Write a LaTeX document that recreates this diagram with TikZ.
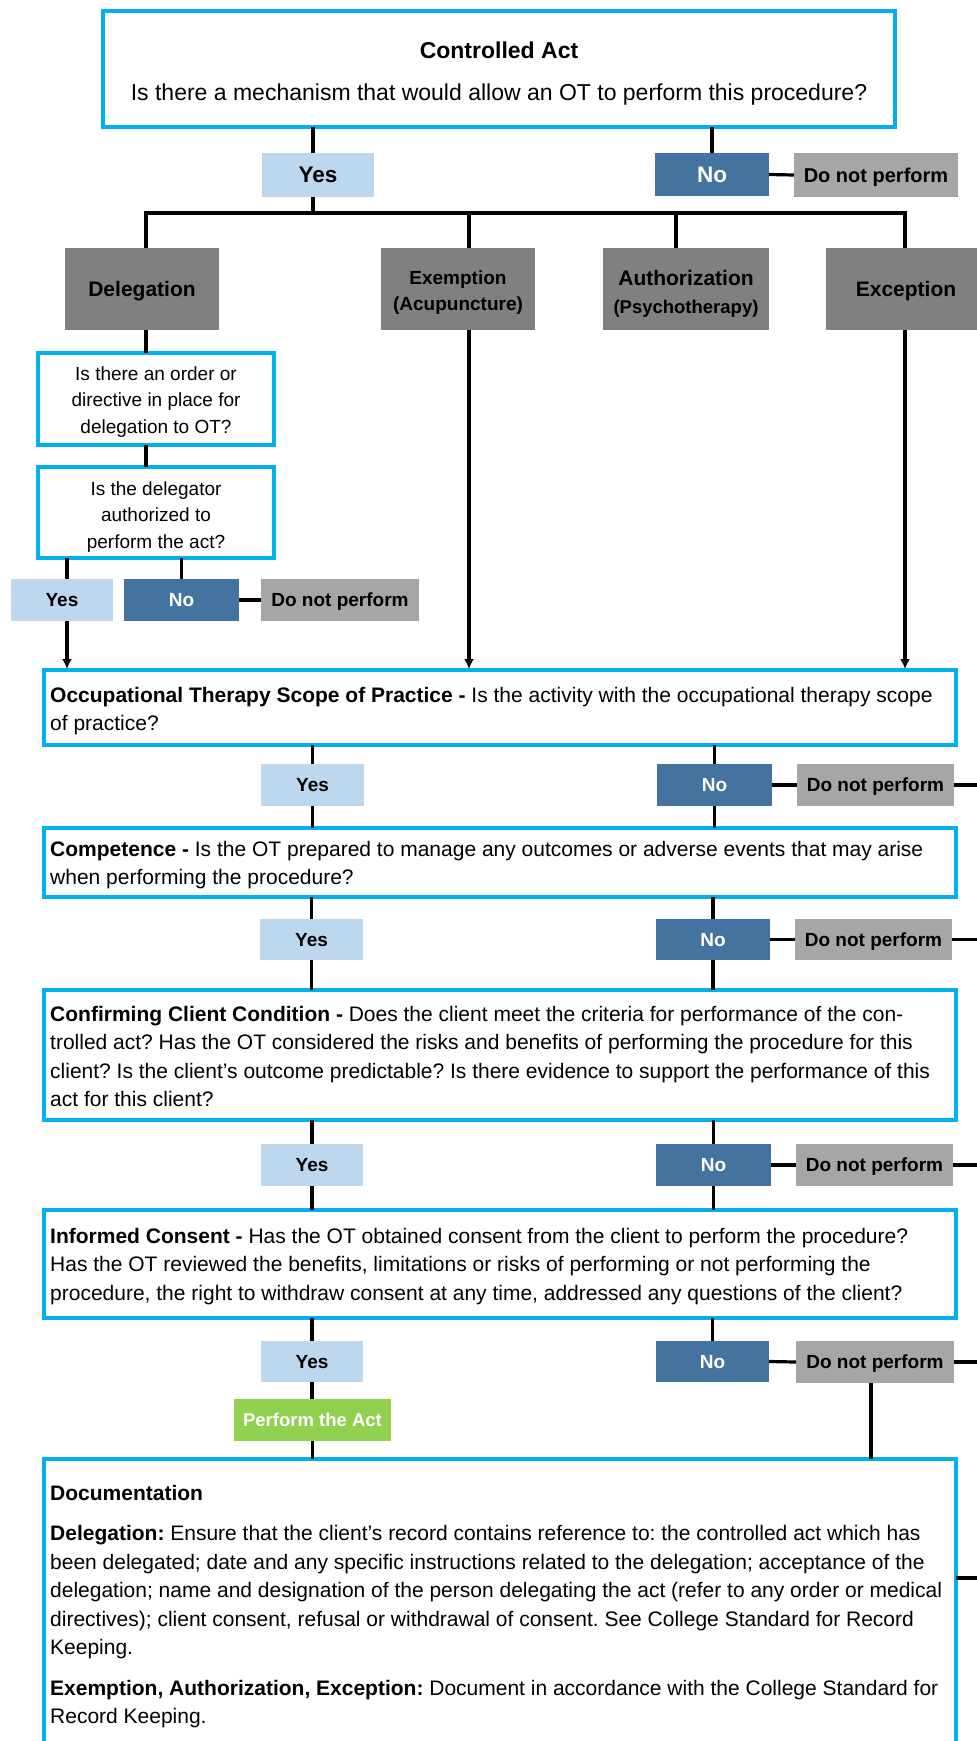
\documentclass[tikz,border=0pt]{standalone}
\usepackage{fontspec}
\setmainfont{Liberation Sans}
\usetikzlibrary{arrows.meta}
\definecolor{qblue}{HTML}{00B0F0}
\definecolor{yesfill}{HTML}{BDD7EE}
\definecolor{nofill}{HTML}{44739F}
\definecolor{stopfill}{HTML}{A6A6A6}
\definecolor{catfill}{HTML}{808080}
\definecolor{actfill}{HTML}{92D050}
\newcommand{\fsz}[2]{\fontsize{#1}{#2}\selectfont}
\frenchspacing
\begin{document}
\begin{tikzpicture}[x=1pt,y=-1pt,
  base/.style={rectangle, inner sep=0pt, outer sep=0pt, anchor=north west},
  qbox/.style={base, draw=qblue, line width=4pt, fill=white},
  flat/.style={base, text depth=0pt},
  yesbox/.style={flat, fill=yesfill, font=\fsz{19}{23}\bfseries},
  nobox/.style={flat, fill=nofill, text=white, font=\fsz{19}{23}\bfseries},
  stopbox/.style={flat, fill=stopfill, font=\fsz{19}{23}\bfseries},
  catbox/.style={base, fill=catfill, align=center},
  actbox/.style={flat, fill=actfill, text=white, font=\fsz{18.5}{23}\bfseries},
  ptext/.style={anchor=north west, inner sep=0pt, align=left, font=\fsz{21}{28.5}},
  ctext/.style={anchor=north, inner sep=0pt, align=center, font=\fsz{19}{26.5}},
  conn/.style={draw=black, line width=3.2pt},
  arr/.style={conn, -{Latex[length=10pt,width=10pt]}, shorten >=1pt}
]
\useasboundingbox (0,0) rectangle (977,1741);
\clip (0,0) rectangle (977,1741);

% connector columns
\coordinate (cY) at (313,0);
\coordinate (cB) at (67,0);
\coordinate (cD) at (871,0);
\coordinate (edge) at (977,0);
\coordinate (busL) at (146,213);
\coordinate (busE) at (469,213);
\coordinate (busA) at (676,213);
\coordinate (busR) at (905,213);
\coordinate (docStub) at (977,1578);

% top question
\node[qbox, minimum width=792pt, minimum height=116pt] (top) at (103,11) {};
\node[anchor=base, inner sep=0pt, font=\fsz{23}{28}\bfseries] (title) at (499,58) {Controlled Act};
\node[anchor=base, inner sep=0pt, font=\fsz{23}{28}] (question) at (499,100) {Is there a mechanism that would allow an OT to perform this procedure?};

\node[yesbox, minimum width=112pt, minimum height=44pt, font=\fsz{22.5}{27}\bfseries] (yesA) at (262,153) {Yes};
\node[nobox, minimum width=114pt, minimum height=43pt, font=\fsz{22.5}{27}\bfseries] (noA) at (655,153) {No};
\node[stopbox, minimum width=164pt, minimum height=44pt, font=\fsz{20}{24}\bfseries] (dnpA) at (794,153) {Do not perform};

% four mechanisms
\node[catbox, text depth=0pt, minimum width=154pt, minimum height=82pt, font=\fsz{21}{26}\bfseries] (deleg) at (65,248) {Delegation};
\node[catbox, minimum width=154pt, minimum height=82pt, font=\fsz{19}{26}\bfseries] (exem) at (381,248) {\rule{0pt}{20pt}Exemption\\(Acupuncture)};
\node[catbox, minimum width=166pt, minimum height=82pt, font=\fsz{18.5}{28}\bfseries] (auth) at (603,248) {\rule{0pt}{25pt}{\fsz{21}{28}\bfseries Authorization}\\(Psychotherapy)};
\node[catbox, text depth=0pt, minimum width=160pt, minimum height=82pt, font=\fsz{21}{26}\bfseries] (excp) at (826,248) {Exception};

% delegation checks
\node[qbox, minimum width=236pt, minimum height=92pt] (q1) at (38,353) {};
\node[ctext] (q1t) at (156,362) {\rule{0pt}{18pt}Is there an order or\\directive in place for\\delegation to OT?};
\node[qbox, minimum width=236pt, minimum height=91pt] (q2) at (38,467) {};
\node[ctext] (q2t) at (156,477) {\rule{0pt}{18pt}Is the delegator\\authorized to\\perform the act?};

\node[yesbox, minimum width=102pt, minimum height=42pt] (yesB) at (11,579) {Yes};
\node[nobox, minimum width=115pt, minimum height=42pt] (noB) at (124,579) {No};
\node[stopbox, minimum width=158pt, minimum height=42pt] (dnpB) at (261,579) {Do not perform};

% scope of practice
\node[qbox, minimum width=912pt, minimum height=75pt] (ot) at (44,670) {};
\node[ptext] (ott) at (50,682) {\rule{0pt}{20pt}\textbf{Occupational Therapy Scope of Practice -} Is the activity with the occupational therapy scope\\of practice?};
\node[yesbox, minimum width=103pt, minimum height=42pt] (yes1) at (261,764) {Yes};
\node[nobox, minimum width=115pt, minimum height=42pt] (no1) at (657,764) {No};
\node[stopbox, minimum width=157pt, minimum height=42pt] (dnp1) at (797,764) {Do not perform};

% competence
\node[qbox, minimum width=912pt, minimum height=69pt] (comp) at (44,828) {};
\node[ptext] (compt) at (50,836) {\rule{0pt}{20pt}\textbf{Competence -} Is the OT prepared to manage any outcomes or adverse events that may arise\\when performing the procedure?};
\node[yesbox, minimum width=103pt, minimum height=41pt] (yes2) at (260,919) {Yes};
\node[nobox, minimum width=114pt, minimum height=41pt] (no2) at (656,919) {No};
\node[stopbox, minimum width=157pt, minimum height=41pt] (dnp2) at (795,919) {Do not perform};

% client condition
\node[qbox, minimum width=912pt, minimum height=130pt] (conf) at (44,990) {};
\node[ptext] (conft) at (50,1001) {\rule{0pt}{20pt}\textbf{Confirming Client Condition -} Does the client meet the criteria for performance of the con-\\trolled act? Has the OT considered the risks and benefits of performing the procedure for this\\client? Is the client's outcome predictable? Is there evidence to support the performance of this\\act for this client?};
\node[yesbox, minimum width=102pt, minimum height=42pt] (yes3) at (261,1144) {Yes};
\node[nobox, minimum width=115pt, minimum height=42pt] (no3) at (656,1144) {No};
\node[stopbox, minimum width=157pt, minimum height=42pt] (dnp3) at (796,1144) {Do not perform};

% informed consent
\node[qbox, minimum width=912pt, minimum height=108pt] (inf) at (44,1210) {};
\node[ptext] (inft) at (50,1223) {\rule{0pt}{20pt}\textbf{Informed Consent -} Has the OT obtained consent from the client to perform the procedure?\\Has the OT reviewed the benefits, limitations or risks of performing or not performing the\\procedure, the right to withdraw consent at any time, addressed any questions of the client?};
\node[yesbox, minimum width=102pt, minimum height=41pt] (yes4) at (261,1341) {Yes};
\node[nobox, minimum width=113pt, minimum height=41pt] (no4) at (656,1341) {No};
\node[stopbox, minimum width=158pt, minimum height=42pt] (dnp4) at (796,1341) {Do not perform};
\node[actbox, minimum width=157pt, minimum height=42pt] (perf) at (234,1399) {Perform the Act};

% documentation
\node[qbox, minimum width=912pt, minimum height=320pt] (doc) at (44,1459) {};
\node[ptext] (doct) at (50,1480) {\rule{0pt}{20pt}\textbf{Documentation}\\[12pt]\textbf{Delegation:} Ensure that the client's record contains reference to: the controlled act which has\\been delegated; date and any specific instructions related to the delegation; acceptance of the\\delegation; name and designation of the person delegating the act (refer to any order or medical\\directives); client consent, refusal or withdrawal of consent. See College Standard for Record\\Keeping.\\[12pt]\textbf{Exemption, Authorization, Exception:} Document in accordance with the College Standard for\\Record Keeping.};

% connectors: top level
\draw[conn] (top.south -| cY) -- (yesA.north -| cY);
\draw[conn] (top.south -| noA) -- (noA.north);
\draw[conn] (noA.east) -- (dnpA.west);
\draw[conn] (yesA.south -| cY) -- (busL -| cY);
\draw[conn] (busL |- deleg.north) -- (busL) -- (busR) -- (busR |- excp.north);
\draw[conn] (busE) -- (busE |- exem.north);
\draw[conn] (busA) -- (busA |- auth.north);

% delegation path
\draw[conn] (busL |- deleg.south) -- (busL |- q1.north);
\draw[conn] (busL |- q1.south) -- (busL |- q2.north);
\draw[conn] (cB |- q2.south) -- (cB |- yesB.north);
\draw[conn] (noB.north |- q2.south) -- (noB.north);
\draw[conn] (noB.east) -- (dnpB.west);
\draw[arr] (cB |- yesB.south) -- (cB |- ot.north);
\draw[arr] (busE |- exem.south) -- (busE |- ot.north);
\draw[arr] (busR |- excp.south) -- (busR |- ot.north);

% question rows
\foreach \b/\y/\n/\d/\nx in {ot/yes1/no1/dnp1/comp, comp/yes2/no2/dnp2/conf, conf/yes3/no3/dnp3/inf}{
  \draw[conn] (\y.north |- \b.south) -- (\y.north);
  \draw[conn] (\y.south) -- (\y.south |- \nx.north);
  \draw[conn] (\n.north |- \b.south) -- (\n.north);
  \draw[conn] (\n.south) -- (\n.south |- \nx.north);
  \draw[conn] (\n.east) -- (\d.west);
  \draw[conn] (\d.east) -- (\d.east -| edge);
}
\draw[conn] (yes4.north |- inf.south) -- (yes4.north);
\draw[conn] (no4.north |- inf.south) -- (no4.north);
\draw[conn] (no4.east) -- (dnp4.west);
\draw[conn] (dnp4.east) -- (dnp4.east -| edge);
\draw[conn] (yes4.south) -- (yes4.south |- perf.north);
\draw[conn] (perf.south) -- (perf.south |- doc.north);
\draw[conn] (cD |- dnp4.south) -- (cD |- doc.north);
\draw[conn] (docStub -| doc.east) -- (docStub);
\end{tikzpicture}
\end{document}
